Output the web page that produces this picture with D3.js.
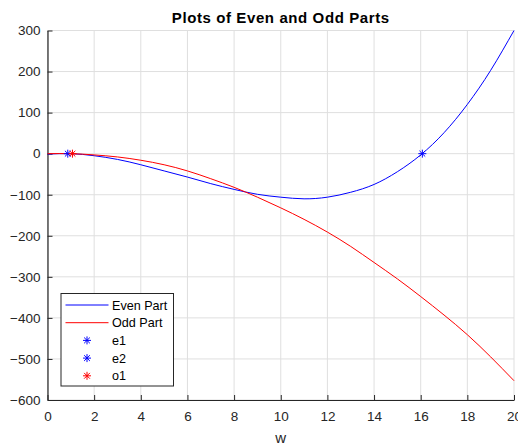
<!DOCTYPE html>
<html>
<head>
<meta charset="utf-8">
<script src="https://cdn.jsdelivr.net/npm/d3@7"></script>
<style>
  html, body { margin: 0; padding: 0; background: #fff; }
  svg { display: block; }
  text { font-family: "Liberation Sans", Arial, Helvetica, sans-serif; }
</style>
</head>
<body>
<svg id="chart" width="518" height="448"></svg>
<script>
// ---- data ----
const w = [0,1,2,3,4,5,6,7,8,9,10,11,12,13,14,15,16,17,18,19,20];
const evenPart = [-1,0,-5,-14,-27,-42,-57,-73,-87,-99,-106,-110,-106,-94,-75,-44,-3,51,120,203,300];
const oddPart  = [0,0,-3,-8,-16,-27,-42,-61,-82,-106,-132,-160,-191,-226,-265,-305,-348,-393,-441,-495,-553];
const e1 = [0.87, 0];
const e2 = [16.07, 0];
const o1 = [1.07, 0];
const xTicks = [0,2,4,6,8,10,12,14,16,18,20];
const yTicks = [-600,-500,-400,-300,-200,-100,0,100,200,300];
const legendLabels = ["Even Part", "Odd Part", "e1", "e2", "o1"];

const svg = d3.select("#chart");
const m = {left: 47.5, right: 514, top: 30.5, bottom: 400};
const x = d3.scaleLinear().domain([0, 20]).range([m.left, m.right]);
const y = d3.scaleLinear().domain([-600, 300]).range([m.bottom, m.top]);

const tickCol = "#262626";
const gridCol = "#dfdfdf";

// grid
const grid = svg.append("g");
grid.selectAll("line.gx").data(xTicks).enter().append("line")
  .attr("x1", d => x(d)).attr("x2", d => x(d))
  .attr("y1", m.top).attr("y2", m.bottom)
  .attr("stroke", gridCol).attr("stroke-width", 1);
grid.selectAll("line.gy").data(yTicks).enter().append("line")
  .attr("x1", m.left).attr("x2", m.right)
  .attr("y1", d => y(d)).attr("y2", d => y(d))
  .attr("stroke", gridCol).attr("stroke-width", 1);

// axes
const xAxis = d3.axisBottom(x).tickValues(xTicks).tickSizeInner(-5).tickSizeOuter(0).tickPadding(12);
const yAxis = d3.axisLeft(y).tickValues(yTicks).tickSizeInner(-5).tickSizeOuter(0).tickPadding(12);
const gx = svg.append("g").attr("transform", `translate(0,${m.bottom})`).call(xAxis);
const gy = svg.append("g").attr("transform", `translate(${m.left},0)`).call(yAxis);
[gx, gy].forEach(g => {
  g.select(".domain").attr("stroke", tickCol).attr("stroke-width", 1.2);
  g.selectAll(".tick line").attr("stroke", tickCol);
  g.selectAll(".tick text").attr("fill", tickCol).style("font-size", "13.5px")
    .style("font-family", '"Liberation Sans", Arial, sans-serif');
});
gy.selectAll(".tick text").attr("x", -7);
gx.selectAll(".tick text").attr("y", 11);

// curves
const line = d3.line().x(d => x(d[0])).y(d => y(d[1])).curve(d3.curveNatural);
const plot = svg.append("g");
plot.append("path").datum(w.map((v, i) => [v, evenPart[i]]))
  .attr("d", line).attr("fill", "none").attr("stroke", "#0000ff").attr("stroke-width", 1);
plot.append("path").datum(w.map((v, i) => [v, oddPart[i]]))
  .attr("d", line).attr("fill", "none").attr("stroke", "#ff0000").attr("stroke-width", 1);

// asterisk marker
function asterisk(g, cx, cy, color, r) {
  const s = r * 0.72;
  const d = `M${cx - r},${cy}L${cx + r},${cy}M${cx},${cy - r}L${cx},${cy + r}` +
            `M${cx - s},${cy - s}L${cx + s},${cy + s}M${cx - s},${cy + s}L${cx + s},${cy - s}`;
  g.append("path").attr("d", d).attr("stroke", color).attr("stroke-width", 1).attr("fill", "none");
}
[[e1, "#0000ff"], [e2, "#0000ff"], [o1, "#ff0000"]].forEach(([p, c]) => {
  asterisk(plot, x(p[0]), y(p[1]), c, 4);
});

// title and axis label
svg.append("text").attr("x", (m.left + m.right) / 2).attr("y", 23)
  .attr("text-anchor", "middle").style("font-size", "15px").style("font-weight", "bold")
  .style("letter-spacing", "0.6px")
  .attr("fill", "#000").text("Plots of Even and Odd Parts");
svg.append("text").attr("x", (m.left + m.right) / 2).attr("y", 443)
  .attr("text-anchor", "middle").style("font-size", "15px")
  .attr("fill", tickCol).text("w");

// legend
const lg = svg.append("g");
lg.append("rect").attr("x", 61).attr("y", 293.5).attr("width", 112.5).attr("height", 92.5)
  .attr("fill", "#fff").attr("stroke", "#262626").attr("stroke-width", 1);
const rowY = i => 305 + i * 17.7;
const legColors = ["#0000ff", "#ff0000", "#0000ff", "#0000ff", "#ff0000"];
legendLabels.forEach((lab, i) => {
  if (i < 2) {
    lg.append("line").attr("x1", 65.5).attr("x2", 108.5).attr("y1", rowY(i)).attr("y2", rowY(i))
      .attr("stroke", legColors[i]).attr("stroke-width", 1);
  } else {
    asterisk(lg, 87, rowY(i), legColors[i], 4);
  }
  lg.append("text").attr("x", 112).attr("y", rowY(i) + 4.5)
    .style("font-size", "12.6px").attr("fill", "#000").text(lab);
});
</script>
</body>
</html>
